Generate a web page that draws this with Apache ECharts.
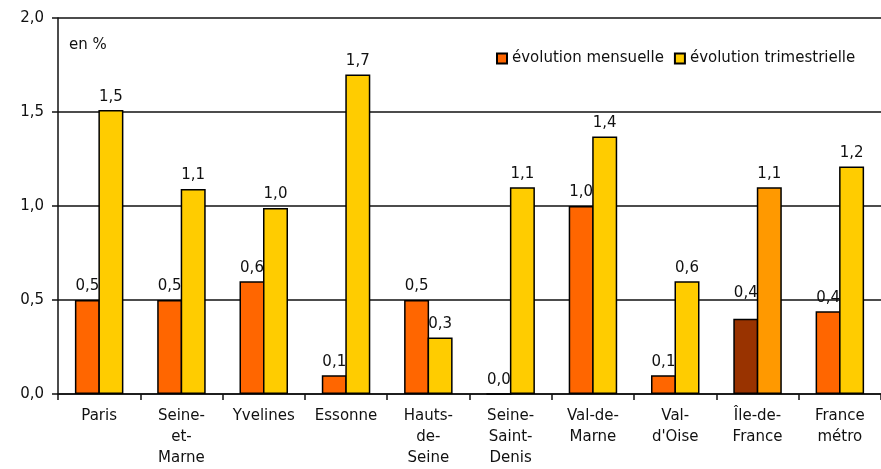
<!DOCTYPE html>
<html>
<head>
<meta charset="utf-8">
<script src="https://cdn.jsdelivr.net/npm/echarts@6/dist/echarts.min.js"></script>
<style>html,body{margin:0;padding:0;background:#fff}#c{width:881px;height:469px}</style>
</head>
<body>
<div id="c"></div>
<script>
var categories = ['Paris', 'Seine-\net-\nMarne', 'Yvelines', 'Essonne', 'Hauts-\nde-\nSeine', 'Seine-\nSaint-\nDenis', 'Val-de-\nMarne', "Val-\nd'Oise", 'Île-de-\nFrance', 'France\nmétro'];
var mensuelle = [0.50, 0.50, 0.60, 0.10, 0.50, 0.00, 1.00, 0.10, 0.40, 0.44];
var trimestrielle = [1.51, 1.09, 0.99, 1.70, 0.30, 1.10, 1.37, 0.60, 1.10, 1.21];
var yTicks = ['0,0', '0,5', '1,0', '1,5', '2,0'];
var seriesNames = ['évolution mensuelle', 'évolution trimestrielle'];
var highlightIndex = 8;

var FONT = 'DejaVu Sans';
var TXT = '#111';
var FS = 15;
function fmt(v){ return v.toFixed(1).replace('.', ','); }

function build(values, hiColor, hiLabel){
  return values.map(function(v, i){
    var d = {value: v};
    if (i === highlightIndex) {
      d.itemStyle = {color: hiColor};
      if (hiLabel) d.label = hiLabel;
    }
    return d;
  });
}

var labelBase = {show: true, position: 'top', distance: 6, fontFamily: FONT, fontSize: FS, color: TXT,
  formatter: function(p){ return fmt(p.value); }};

var chart = echarts.init(document.getElementById('c'), null, {renderer: 'canvas'});
chart.setOption({
  animation: false,
  backgroundColor: '#fff',
  textStyle: {fontFamily: FONT},
  grid: {left: 58, top: 18, width: 830, height: 376},
  legend: {
    left: 491, top: 46,
    itemWidth: 10, itemHeight: 10, itemGap: 10,
    icon: 'rect',
    textStyle: {fontFamily: FONT, fontSize: FS, color: TXT},
    data: seriesNames
  },
  graphic: [{
    type: 'text', left: 69, top: 38,
    style: {text: 'en %', font: FS + 'px "DejaVu Sans"', fill: TXT}
  }],
  xAxis: {
    type: 'category',
    data: categories,
    axisLine: {lineStyle: {color: '#111', width: 1.5}},
    axisTick: {show: true, interval: 0, length: 6, lineStyle: {color: '#111', width: 1.5}},
    axisLabel: {interval: 0, margin: 12, fontFamily: FONT, fontSize: FS, color: TXT, lineHeight: 21}
  },
  yAxis: {
    type: 'value', min: 0, max: 2, interval: 0.5,
    axisLine: {show: true, lineStyle: {color: '#111', width: 1.5}},
    axisTick: {show: true, length: 6, lineStyle: {color: '#111', width: 1.5}},
    axisLabel: {margin: 14, fontFamily: FONT, fontSize: FS, color: TXT,
      formatter: function(v){ return yTicks[Math.round(v / 0.5)]; }},
    splitLine: {lineStyle: {color: '#111', width: 1.5}}
  },
  series: [
    {
      name: seriesNames[0], type: 'bar',
      data: build(mensuelle, '#993300', {distance: 18}),
      barWidth: 25, barGap: '-6%',
      itemStyle: {color: '#FF6600', borderColor: '#000', borderWidth: 1.5},
      label: labelBase
    },
    {
      name: seriesNames[1], type: 'bar',
      data: build(trimestrielle, '#FF9900', null),
      barWidth: 25, barGap: '-6%',
      itemStyle: {color: '#FFCC00', borderColor: '#000', borderWidth: 1.5},
      label: labelBase
    }
  ]
});
</script>
</body>
</html>
